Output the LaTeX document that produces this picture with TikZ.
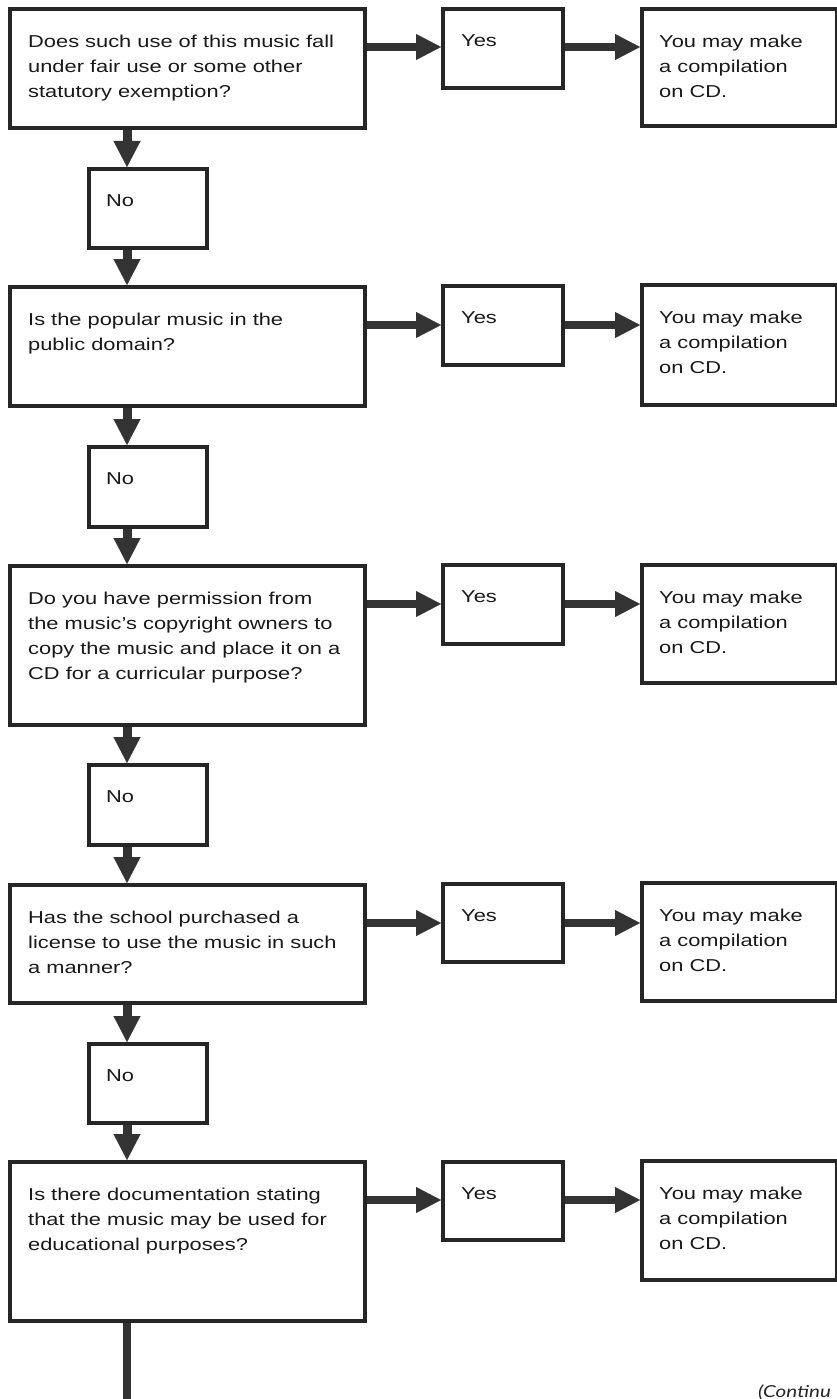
\documentclass[tikz,border=0pt]{standalone}
\usepackage{fontspec}
\setmainfont{Liberation Sans}[FakeStretch=1.27]
\newfontfamily\contfont{Lato}[FakeStretch=1.25]
\usetikzlibrary{arrows.meta}
\begin{document}
\begin{tikzpicture}[x=1pt,y=-1pt,
  box/.style={draw=black!85, line width=3.6pt, anchor=north west, inner sep=0pt},
  qbox/.style={box, minimum width=355pt},
  ybox/.style={box, minimum width=120pt, minimum height=79pt},
  rbox/.style={box, minimum width=195pt},
  nbox/.style={box, minimum width=118pt, minimum height=79pt},
  txt/.style={anchor=north west, inner sep=0pt, align=left,
    font=\fontsize{17.2pt}{25pt}\selectfont, text=black!90},
  conn/.style={draw=black!80, line width=8pt,
    -{Triangle[length=25pt,width=26pt,line width=0.1pt]}},
  vconn/.style={draw=black!80, line width=9pt,
    -{Triangle[length=26pt,width=27pt,line width=0.1pt]}},
  endline/.style={draw=black!80, line width=8pt}
]
\useasboundingbox (0,0) rectangle (837,1399);
\coordinate (col) at (127,0);

% ---------- row 1
\node[qbox, minimum height=119pt] (q1) at (8,7) {};
\node[ybox] (y1) at (441,7) {};
\node[rbox, minimum height=117pt] (r1) at (640,7) {};
\node[nbox] (n1) at (87,167) {};
% ---------- row 2
\node[qbox, minimum height=119pt] (q2) at (8,285) {};
\node[ybox] (y2) at (441,284) {};
\node[rbox, minimum height=120pt] (r2) at (640,283) {};
\node[nbox, minimum height=80pt] (n2) at (87,445) {};
% ---------- row 3
\node[qbox, minimum height=159pt] (q3) at (8,564) {};
\node[ybox] (y3) at (441,563) {};
\node[rbox, minimum height=118pt] (r3) at (640,563) {};
\node[nbox, minimum height=80pt] (n3) at (87,763) {};
% ---------- row 4
\node[qbox, minimum height=118pt] (q4) at (8,883) {};
\node[ybox, minimum height=78pt] (y4) at (441,882) {};
\node[rbox, minimum height=118pt] (r4) at (640,881) {};
\node[nbox] (n4) at (87,1042) {};
% ---------- row 5
\node[qbox, minimum height=159pt] (q5) at (8,1160) {};
\node[ybox, minimum height=78pt] (y5) at (441,1160) {};
\node[rbox, minimum height=119pt] (r5) at (640,1159) {};

% ---------- texts
\node[txt] (q1t) at ([xshift=20pt,yshift=-27.5pt]q1.north west) {Does such use of this music fall\\under fair use or some other\\statutory exemption?};
\node[txt] (q2t) at ([xshift=20pt,yshift=-27.5pt]q2.north west) {Is the popular music in the\\public domain?};
\node[txt] (q3t) at ([xshift=20pt,yshift=-27.5pt]q3.north west) {Do you have permission from\\the music's copyright owners to\\copy the music and place it on a\\CD for a curricular purpose?};
\node[txt] (q4t) at ([xshift=20pt,yshift=-27.5pt]q4.north west) {Has the school purchased a\\license to use the music in such\\a manner?};
\node[txt] (q5t) at ([xshift=20pt,yshift=-27.5pt]q5.north west) {Is there documentation stating\\that the music may be used for\\educational purposes?};

\foreach \i in {1,...,5}{
  \node[txt] (y\i t) at ([xshift=20pt,yshift=-27.5pt]y\i.north west) {Yes};
  \node[txt] (r\i t) at ([xshift=19pt,yshift=-27.5pt]r\i.north west) {You may make\\a compilation\\on CD.};
}
\foreach \i in {1,...,4}{
  \node[txt] (n\i t) at ([xshift=19pt,yshift=-27.5pt]n\i.north west) {No};
}

% ---------- horizontal connectors
\foreach \i in {1,...,5}{
  \coordinate (h\i) at ([yshift=-40pt]q\i.north east);
  \draw[conn] (h\i) -- (h\i -| y\i.west);
  \draw[conn] (h\i -| y\i.east) -- (h\i -| r\i.west);
}

% ---------- vertical connectors
\draw[vconn] (q1.south -| col) -- (n1.north -| col);
\draw[vconn] (n1.south -| col) -- (q2.north -| col);
\draw[vconn] (q2.south -| col) -- (n2.north -| col);
\draw[vconn] (n2.south -| col) -- (q3.north -| col);
\draw[vconn] (q3.south -| col) -- (n3.north -| col);
\draw[vconn] (n3.south -| col) -- (q4.north -| col);
\draw[vconn] (q4.south -| col) -- (n4.north -| col);
\draw[vconn] (n4.south -| col) -- (q5.north -| col);
\coordinate (bottom) at (127,1399);
\draw[endline] (q5.south -| col) -- (bottom);

% ---------- continuation note
\node[anchor=base west, inner sep=0pt, text=black!85,
  font={\contfont\itshape\fontsize{16.5pt}{19pt}\selectfont}] (cont) at (758,1397) {(Continu};
\end{tikzpicture}
\end{document}
